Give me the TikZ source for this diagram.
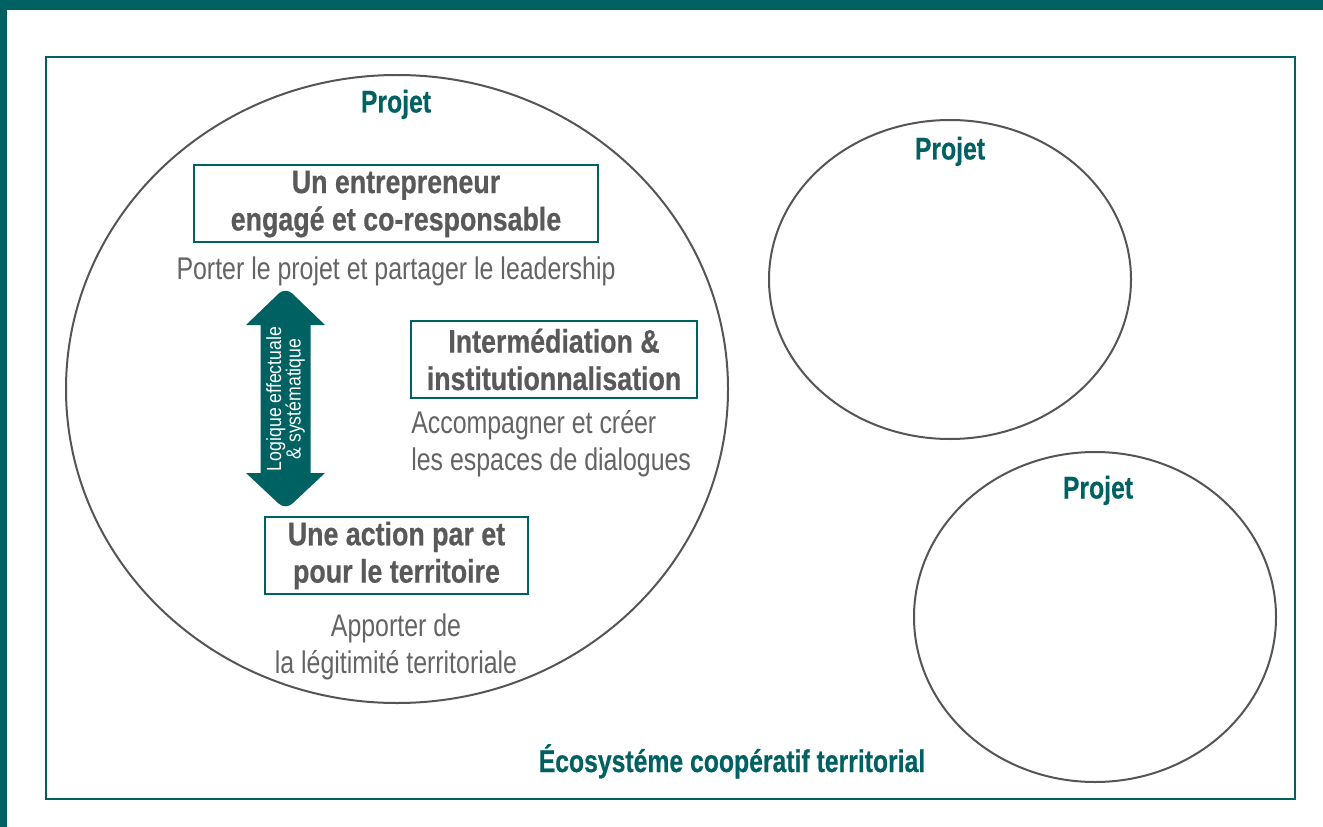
\documentclass[tikz,border=0pt]{standalone}
\usepackage{fontspec}
\setmainfont{Liberation Sans}
\newfontfamily\titlefont{Liberation Sans}[FakeStretch=0.79,FakeBold=0.5]
\newfontfamily\boxfont{Liberation Sans}[FakeStretch=0.82,FakeBold=0.5]
\newfontfamily\regfont{Liberation Sans}[FakeStretch=0.795]
\newfontfamily\arrowfont{Liberation Sans}[FakeStretch=0.86]
\definecolor{teal1}{RGB}{0,97,99}
\definecolor{txtgray}{RGB}{89,89,89}
\definecolor{descgray}{RGB}{100,100,100}
\definecolor{circgray}{RGB}{85,85,85}
\begin{document}
\begin{tikzpicture}[x=0.75pt,y=-0.75pt,
  circ/.style={draw=circgray, line width=1.5pt},
  tbox/.style={draw=teal1, line width=1.5pt, fill=white, text=txtgray, align=center, inner sep=0pt,
    font=\boxfont\bfseries\fontsize{24.5}{28}\selectfont},
  ptitle/.style={text=teal1, font=\titlefont\bfseries\fontsize{23.5}{28}\selectfont, anchor=base, inner sep=0pt},
  desc/.style={text=descgray, font=\regfont\fontsize{23.5}{27.75}\selectfont, inner sep=0pt},
  arrowtxt/.style={text=white, font=\arrowfont\fontsize{15.4}{14.6}\selectfont, align=center, inner sep=0pt}]
\useasboundingbox (0,0) rectangle (1323,827);
\fill[white] (0,0) rectangle (1323,827);
% frame bands
\fill[teal1] (0,0) rectangle (1323,10);
\fill[teal1] (0,0) rectangle (7,827);
% ecosystem frame
\draw[teal1, line width=2pt] (46,57) rectangle (1295,799);
% project ellipses
\draw[circ] (397,389) ellipse [x radius=331, y radius=314];
\draw[circ] (950,279.5) ellipse [x radius=181, y radius=159.5];
\draw[circ] (1095,617) ellipse [x radius=181, y radius=165];
% titles
\node[ptitle] (p1) at (396,112.5) {Projet};
\node[ptitle] (p2) at (950,159.5) {Projet};
\node[ptitle] (p3) at (1098,498.5) {Projet};
\node[ptitle] (eco) at (732,772) {Écosystéme coopératif territorial};
% boxes
\node[tbox, minimum width=303pt, minimum height=57.75pt] (b1) at (396,204) {Un entrepreneur\\engagé et co-responsable};
\node[desc, anchor=base] (d1) at (396,279) {Porter le projet et partager le leadership};
\node[tbox, minimum width=214.5pt, minimum height=57.75pt] (b2) at (554,359.5) {Intermédiation \&\\institutionnalisation};
\node[desc, anchor=west, align=left] (d2) at (411,444) {Accompagner et créer\\les espaces de dialogues};
\node[tbox, minimum width=197.25pt, minimum height=57.75pt] (b3) at (396.5,555.5) {Une action par et\\pour le territoire};
\node[desc, align=center] (d3) at (396,647) {Apporter de\\la légitimité territoriale};
% double arrow
\fill[teal1] (260.5,325) -- (246,325) [rounded corners=7pt] -- (285.5,287) [sharp corners] -- (325,325) -- (310.5,325)
  -- (310.5,473) -- (325,473) [rounded corners=7pt] -- (285.5,510) [sharp corners] -- (246,473) -- (260.5,473) -- cycle;
\node[arrowtxt, rotate=90] (logic) at (285.5,399) {Logique effectuale\\\& systématique};
\end{tikzpicture}
\end{document}
